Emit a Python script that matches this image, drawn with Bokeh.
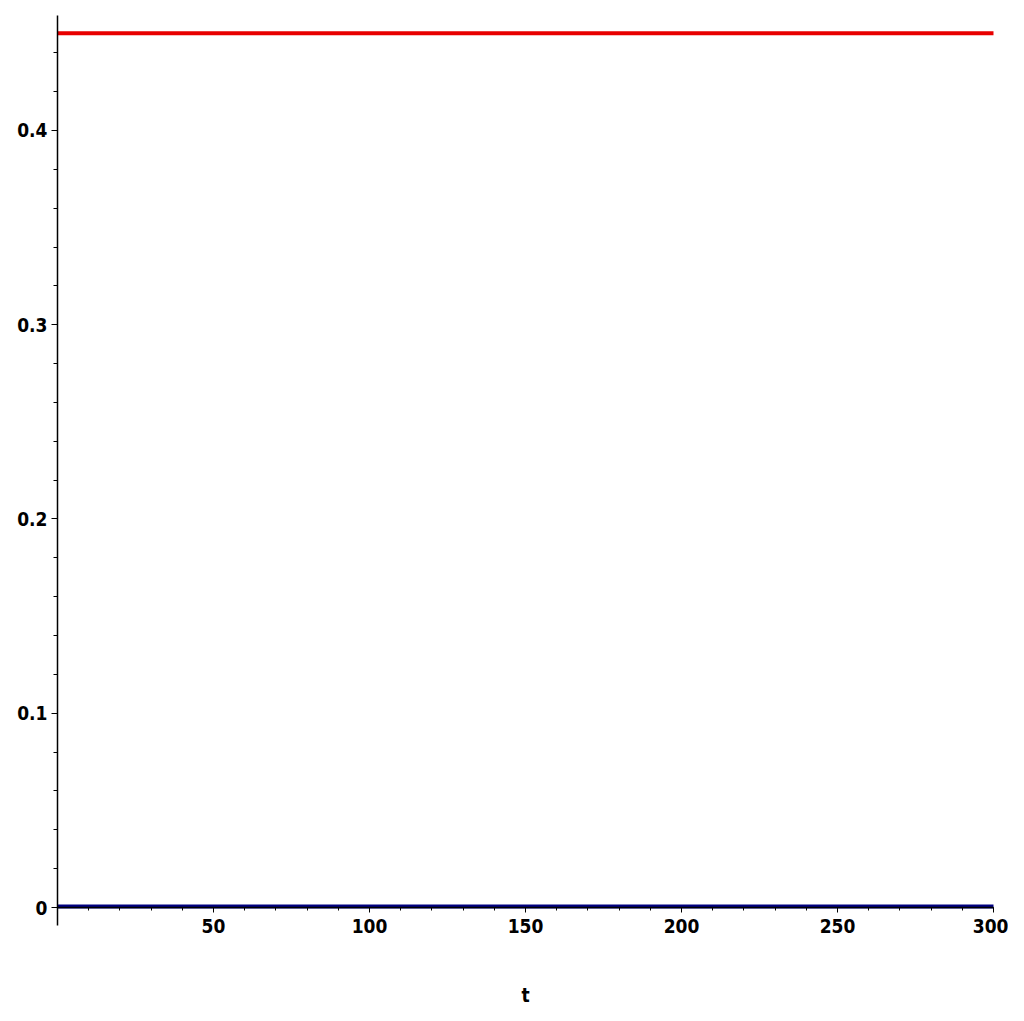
import numpy as np

from bokeh.plotting import figure
from bokeh.models import LinearAxis, SingleIntervalTicker
from bokeh.embed import file_html
from bokeh.resources import INLINE

# data: two flat curves over t in [0, 300]
t = [0, 50, 100, 150, 200, 250, 300]
red_values = [0.45, 0.45, 0.45, 0.45, 0.45, 0.45, 0.45]
blue_values = [0.0005, 0.0005, 0.0005, 0.0005, 0.0005, 0.0005, 0.0005]

FONT = "DejaVu Sans Condensed"

# ranges padded so the axes (drawn at the origin) and their labels sit inside the frame
p = figure(width=1008, height=1005,
           x_range=(-18.27, 304.81), y_range=(-0.05045, 0.46692),
           x_axis_location=None, y_axis_location=None,
           toolbar_location=None, output_backend="svg",
           min_border=0)
p.outline_line_color = None
p.xgrid.visible = False
p.ygrid.visible = False

# curves
p.line(t, red_values, line_color="#e80000", line_width=4)
p.line(t, blue_values, line_color="#000080", line_width=4)

# y axis at t = 0
yaxis = LinearAxis(ticker=SingleIntervalTicker(interval=0.1, num_minor_ticks=5),
                   bounds=(-0.0093, 0.4592))
yaxis.fixed_location = 0
yaxis.major_label_overrides = {0: "0"}
p.add_layout(yaxis, "left")

# x axis at y = 0
xaxis = LinearAxis(ticker=SingleIntervalTicker(interval=50, num_minor_ticks=5),
                   bounds=(0, 300), axis_label="t")
xaxis.fixed_location = 0
xaxis.major_label_overrides = {0: ""}
p.add_layout(xaxis, "below")

for ax in (xaxis, yaxis):
    ax.axis_line_color = "black"
    ax.axis_line_width = 1.5
    ax.major_tick_line_color = "black"
    ax.minor_tick_line_color = "black"
    ax.major_label_text_font = FONT
    ax.major_label_text_font_style = "bold"
    ax.major_label_text_font_size = "19px"
    ax.major_label_text_color = "black"
    ax.axis_label_text_font = FONT
    ax.axis_label_text_font_style = "bold"
    ax.axis_label_text_font_size = "19px"
    ax.axis_label_text_color = "black"

yaxis.major_tick_out = 6
yaxis.major_tick_in = 0
yaxis.minor_tick_out = 4
yaxis.minor_tick_in = 0
yaxis.major_label_standoff = 4

xaxis.major_tick_out = 5
xaxis.major_tick_in = 0
xaxis.minor_tick_out = 3
xaxis.minor_tick_in = 0
xaxis.major_label_standoff = 6
xaxis.axis_label_standoff = 48

open("out.html", "w").write(file_html(p, INLINE))
